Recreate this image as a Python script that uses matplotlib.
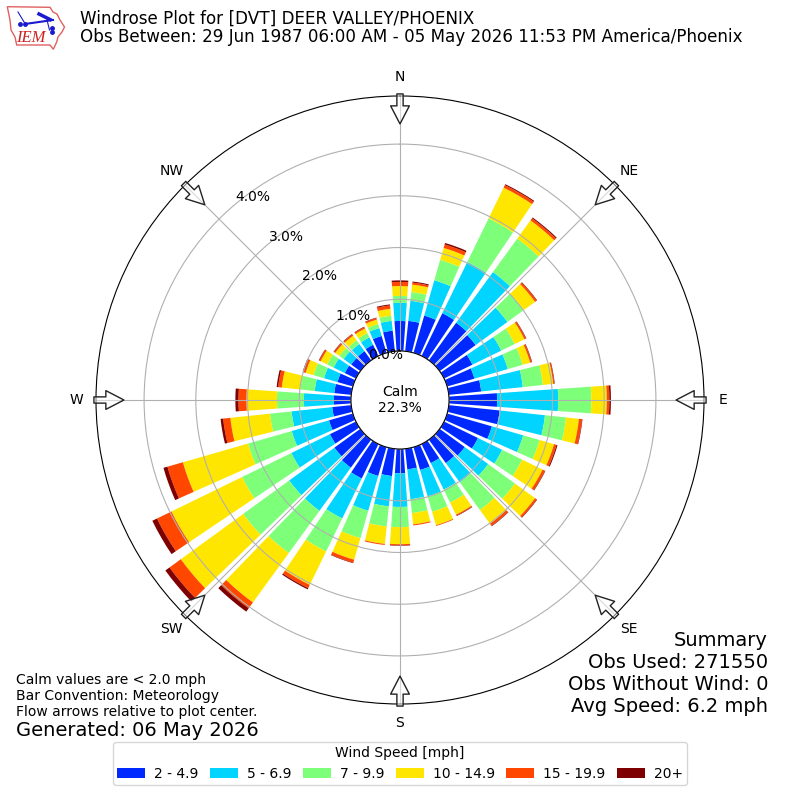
"""Windrose plot for DVT, recreated with plain matplotlib."""
import matplotlib
matplotlib.use("Agg")
import matplotlib.pyplot as plt
import numpy as np
from matplotlib.patches import Polygon

# percent of observations per 10 degree direction bin, clockwise from north
directions = list(range(0, 360, 10))
speed_labels = ["2 - 4.9", "5 - 6.9", "7 - 9.9", "10 - 14.9", "15 - 19.9", "20+"]
speed_colors = ["#0029ff", "#00d4ff", "#7dff7a", "#ffe600", "#ff4700", "#7f0000"]

s2_5 = [.58, .59, .75, .92, .90, .86, .61, .55, .63, .93, .99, .90,
        .73, .60, .56, .41, .46, .40, .47, .53, .58, .74, .67, .62,
        .56, .48, .37, .33, .33, .31, .24, .22, .22, .24, .34, .40]
s5_7 = [.35, .39, .71, 1.10, 1.21, .76, .62, .67, .81, 1.18, .88, .63,
        .52, .56, .46, .57, .53, .58, .65, .59, .70, .86, 1.03, 1.08,
        .83, .75, .79, .58, .38, .27, .24, .18, .17, .16, .16, .19]
s7_10 = [.135, .17, .41, .94, .80, .39, .29, .30, .39, .64, .41, .33,
         .43, .64, .66, .28, .31, .27, .39, .39, .55, .71, 1.01, 1.10,
         1.06, .88, .42, .52, .28, .21, .14, .10, .09, .09, .08, .10]
s10_15 = [.19, .145, .24, .66, .435, .27, .21, .15, .20, .30, .25, .29,
          .44, .48, .33, .26, .27, .22, .33, .34, .435, .72, 1.18, 1.49,
          1.52, 1.31, .77, .59, .36, .16, .14, .10, .11, .10, .09, .135]
s15_20 = [.08, .04, .07, .055, .05, .04, .03, .03, .02, .05, .06, .05,
          .05, .04, .05, .02, .015, .02, .02, .02, .06, .07, .14, .27,
          .31, .31, .14, .155, .07, .04, .03, .03, .03, .03, .03, .065]
s20 = [.03, .02, .03, .02, .02, .01, .01, .01, .01, .03, .01, .02,
       .01, .01, .01, .01, .0, .0, .01, .0, .01, .025, .08, .10,
       .10, .08, .05, .06, .03, .02, .01, .01, .01, .01, .01, .02]
speed_bins = [s2_5, s5_7, s7_10, s10_15, s15_20, s20]

compass = ["N", "NE", "E", "SE", "S", "SW", "W", "NW"]
rticks = [0, 1, 2, 3, 4]
summary_lines = ["Summary", "Obs Used: 271550", "Obs Without Wind: 0", "Avg Speed: 6.2 mph"]
RMAX = 4.93

fig = plt.figure(figsize=(8, 8), dpi=100)
ax = fig.add_axes([0.12, 0.12, 0.76, 0.76], projection="polar")
ax.set_theta_zero_location("N")
ax.set_theta_direction(-1)

# ---------- stacked bars ----------
theta = np.radians(directions)
bottom = np.zeros(len(directions))
for vals, label, color in zip(speed_bins, speed_labels, speed_colors):
    ax.bar(theta, vals, width=np.radians(8), bottom=bottom, color=color,
           label=label, linewidth=0)
    bottom += np.array(vals)

ax.set_ylim(0, RMAX)
ax.set_rorigin(-0.948)
ax.set_yticks(rticks)
ax.set_yticklabels([f"{r:.1f}%" for r in rticks])
ax.set_rlabel_position(320)
ax.set_xticks(np.radians(np.arange(0, 360, 45)))
ax.set_xticklabels(compass)
ax.tick_params(axis="x", pad=3.5)

# ---------- flow arrows ----------
for ang in np.arange(0, 360, 45):
    ax.annotate("", xy=(np.radians(ang), RMAX - 0.54),
                xytext=(np.radians(ang), RMAX + 0.04),
                arrowprops=dict(facecolor=(1, 1, 1, 0.5), edgecolor="#222222",
                                width=4.5, headwidth=13.5, headlength=13,
                                shrink=0, linewidth=1),
                annotation_clip=False, zorder=5)

# ---------- text ----------
fig.text(0.1, 0.9650, "Windrose Plot for [DVT] DEER VALLEY/PHOENIX\n"
         "Obs Between: 29 Jun 1987 06:00 AM - 05 May 2026 11:53 PM America/Phoenix",
         fontsize=12.05, va="center", linespacing=1.0)
fig.text(0.5, 0.5, "Calm\n22.3%", ha="center", va="center", fontsize=10)
for i, line in enumerate(summary_lines):
    fig.text(0.96, 1 - (640 + 22 * i) / 800, line, ha="right", va="center", fontsize=14)
fig.text(0.02, 0.13, "Calm values are < 2.0 mph\nBar Convention: Meteorology\n"
         "Flow arrows relative to plot center.", fontsize=10, va="center", linespacing=1.15)
fig.text(0.02, 0.0875, "Generated: 06 May 2026", fontsize=14, va="center")

ax.legend(loc="lower center", bbox_to_anchor=(0.5, 0.01), bbox_transform=fig.transFigure,
          ncol=6, title="Wind Speed [mph]", fontsize=10, title_fontsize=10,
          columnspacing=0.84, handletextpad=0.65, borderpad=0.3)

# ---------- logo, drawn in pixel space ----------
logo = fig.add_axes([0, 0.9375, 0.0875, 0.0625])
logo.set_xlim(0, 70)
logo.set_ylim(50, 0)
logo.axis("off")
outline = [(7.3, 6.7), (50, 7.3), (53, 12), (57, 14), (60, 20), (64.5, 27), (62, 32),
           (58, 37), (56.7, 42), (53.3, 49.3), (50, 45), (16.7, 45), (15, 37),
           (11, 30), (10, 20)]
logo.add_patch(Polygon(outline, closed=True, fill=False, edgecolor="#e06060", linewidth=1))
logo.plot([18, 25], [12, 23.5], color="#1a1ad0", lw=0.8)
logo.plot([25, 53], [24, 20], color="#1a1ad0", lw=1.5)
logo.plot([39, 50], [14, 19.5], color="#1a1ad0", lw=2.5)
logo.plot([47, 49.5], [20, 30], color="#1a1ad0", lw=0.8)
logo.plot([25, 20, 51.5, 51.5], [23.5, 24, 28, 32], ls="none", marker="o", ms=2.5, color="#1a1ad0")
logo.text(30.5, 38, "IEM", color="#d02020", fontsize=12, family="Liberation Serif",
          style="italic", ha="center", va="center")

plt.savefig("out.png", dpi=100)
